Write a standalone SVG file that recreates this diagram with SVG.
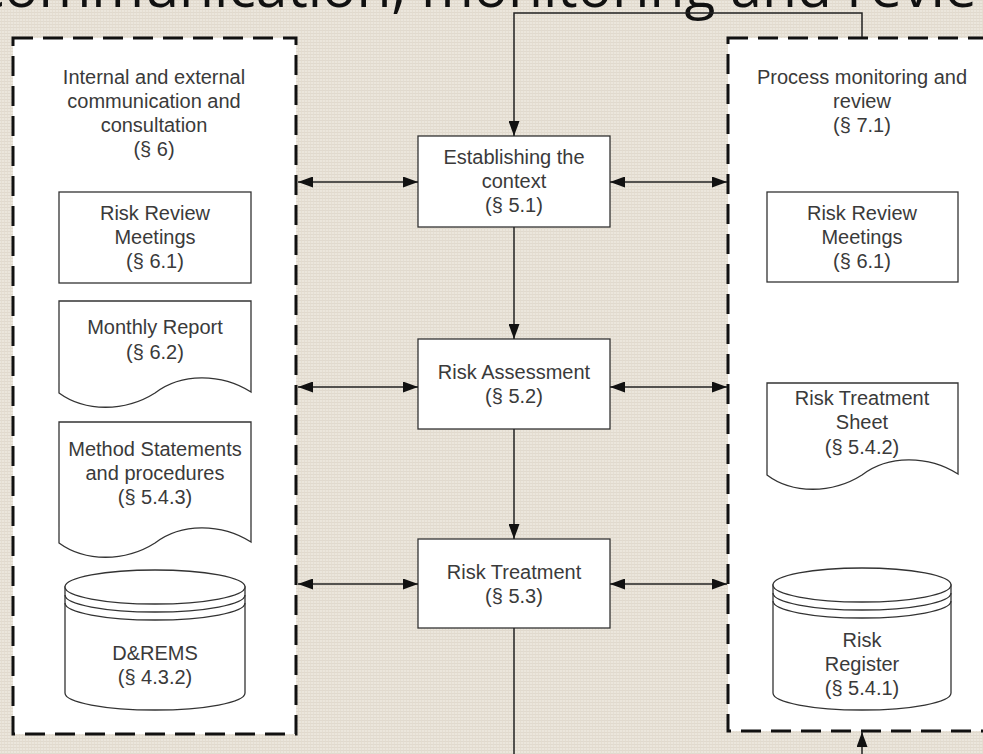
<svg xmlns="http://www.w3.org/2000/svg" width="983" height="754" viewBox="0 0 983 754">
<style>
.t{font-family:"Liberation Sans",Arial,sans-serif;font-size:20px;fill:#3a3a3a;text-anchor:middle}
.title{font-family:"Open Sans","DejaVu Sans",sans-serif;font-size:57px;fill:#111}
.shape{fill:#fff;stroke:#333;stroke-width:1.3}
.dash{fill:#fff;stroke:#111;stroke-width:3;stroke-dasharray:20 10}
.con{fill:none;stroke:#222;stroke-width:1.5}
</style>
<defs>
<pattern id="linen" width="6" height="6" patternUnits="userSpaceOnUse">
<rect width="6" height="6" fill="#ebe6dc"/>
<path d="M0,0.5H6M0,3.5H6" stroke="#ddd6ca" stroke-width="0.8"/>
<path d="M1.5,0V6M4.5,0V6" stroke="#e2dbcf" stroke-width="0.7"/>
</pattern>
<marker id="arr" viewBox="0 0 15 11" refX="15" refY="5.5" markerWidth="15" markerHeight="11" markerUnits="userSpaceOnUse" orient="auto-start-reverse">
<path d="M0,0L15,5.5L0,11z" fill="#111"/>
</marker>
</defs>
<rect width="983" height="754" fill="url(#linen)"/>
<text class="title" x="-23" y="7">communication, monitoring and review</text>

<g id="left-container">
<rect class="dash" x="13" y="38" width="283" height="696"/>
<text class="t"><tspan x="154" y="84">Internal and external</tspan><tspan x="154" y="108">communication and</tspan><tspan x="154" y="132">consultation</tspan><tspan x="154" y="156">(§ 6)</tspan></text>
</g>
<g id="right-container">
<rect class="dash" x="728" y="38" width="270" height="693"/>
<text class="t"><tspan x="862" y="84">Process monitoring and</tspan><tspan x="862" y="108">review</tspan><tspan x="862" y="132">(§ 7.1)</tspan></text>
</g>

<g id="left-rrm">
<rect class="shape" x="59" y="192" width="192" height="91"/>
<text class="t"><tspan x="155" y="220">Risk Review</tspan><tspan x="155" y="244">Meetings</tspan><tspan x="155" y="268">(§ 6.1)</tspan></text>
</g>
<g id="monthly-report">
<path class="shape" d="M59,301H251V392C221,373 181,373 155,393C125,412 85,412 59,393Z"/>
<text class="t"><tspan x="155" y="334">Monthly Report</tspan><tspan x="155" y="359">(§ 6.2)</tspan></text>
</g>
<g id="method-statements">
<path class="shape" d="M59,422H251V542C221,523 181,523 155,543C125,562 85,562 59,543Z"/>
<text class="t"><tspan x="155" y="456">Method Statements</tspan><tspan x="155" y="480">and procedures</tspan><tspan x="155" y="504">(§ 5.4.3)</tspan></text>
</g>
<g id="drems">
<path class="shape" d="M65,587V693A90,17 0 0 0 245,693V587Z"/>
<ellipse class="shape" cx="155" cy="587" rx="90" ry="17"/>
<path class="con" style="stroke:#333;stroke-width:1.3" d="M65,595A90,17 0 0 0 245,595M65,603A90,17 0 0 0 245,603"/>
<text class="t"><tspan x="155" y="660">D&amp;REMS</tspan><tspan x="155" y="684">(§ 4.3.2)</tspan></text>
</g>

<g id="right-rrm">
<rect class="shape" x="767" y="192" width="191" height="90"/>
<text class="t"><tspan x="862" y="220">Risk Review</tspan><tspan x="862" y="244">Meetings</tspan><tspan x="862" y="268">(§ 6.1)</tspan></text>
</g>
<g id="risk-treatment-sheet">
<path class="shape" d="M767,383H958V474C928,455 888,455 862,475C832,494 792,494 767,475Z"/>
<text class="t"><tspan x="862" y="405">Risk Treatment</tspan><tspan x="862" y="429">Sheet</tspan><tspan x="862" y="454">(§ 5.4.2)</tspan></text>
</g>
<g id="risk-register">
<path class="shape" d="M773,585V693A89,17 0 0 0 951,693V585Z"/>
<ellipse class="shape" cx="862" cy="585" rx="89" ry="17"/>
<path class="con" style="stroke:#333;stroke-width:1.3" d="M773,593A89,17 0 0 0 951,593M773,601A89,17 0 0 0 951,601"/>
<text class="t"><tspan x="862" y="647">Risk</tspan><tspan x="862" y="671">Register</tspan><tspan x="862" y="695">(§ 5.4.1)</tspan></text>
</g>

<g id="establishing">
<rect class="shape" x="418" y="136" width="192" height="91"/>
<text class="t"><tspan x="514" y="164">Establishing the</tspan><tspan x="514" y="188">context</tspan><tspan x="514" y="212">(§ 5.1)</tspan></text>
</g>
<g id="risk-assessment">
<rect class="shape" x="418" y="339" width="192" height="90"/>
<text class="t"><tspan x="514" y="379">Risk Assessment</tspan><tspan x="514" y="403">(§ 5.2)</tspan></text>
</g>
<g id="risk-treatment">
<rect class="shape" x="418" y="539" width="192" height="89"/>
<text class="t"><tspan x="514" y="579">Risk Treatment</tspan><tspan x="514" y="603">(§ 5.3)</tspan></text>
</g>

<g id="connectors">
<path class="con" d="M862,37V13H514V136" marker-end="url(#arr)"/>
<path class="con" d="M514,227V339" marker-end="url(#arr)"/>
<path class="con" d="M514,429V539" marker-end="url(#arr)"/>
<path class="con" d="M514,628V754"/>
<path class="con" d="M862,754V732" marker-end="url(#arr)"/>
<path class="con" d="M298,182H418" marker-start="url(#arr)" marker-end="url(#arr)"/>
<path class="con" d="M610,182H727" marker-start="url(#arr)" marker-end="url(#arr)"/>
<path class="con" d="M298,387H418" marker-start="url(#arr)" marker-end="url(#arr)"/>
<path class="con" d="M610,387H727" marker-start="url(#arr)" marker-end="url(#arr)"/>
<path class="con" d="M298,584H418" marker-start="url(#arr)" marker-end="url(#arr)"/>
<path class="con" d="M610,584H727" marker-start="url(#arr)" marker-end="url(#arr)"/>
</g>
</svg>
